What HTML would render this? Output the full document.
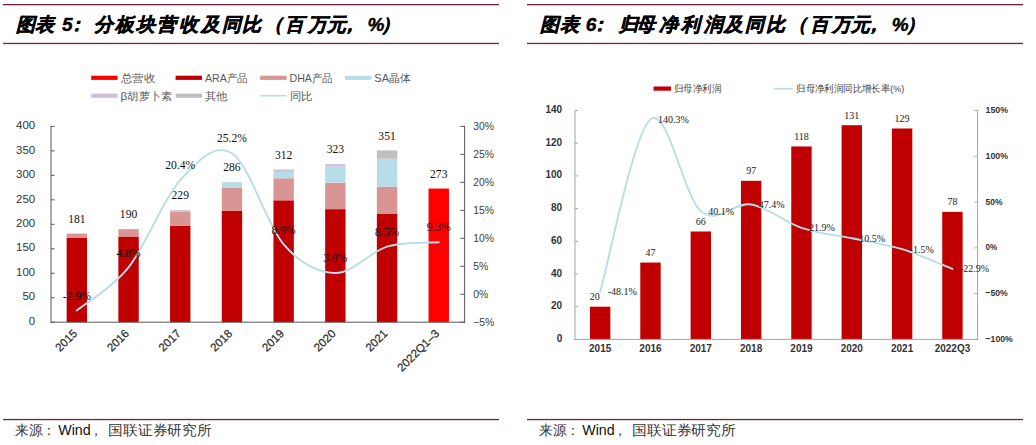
<!DOCTYPE html>
<html><head><meta charset="utf-8"><style>
html,body{margin:0;padding:0;background:#fff;}
body{width:1036px;height:445px;overflow:hidden;font-family:"Liberation Sans",sans-serif;}
svg{display:block;}
</style></head><body>
<svg width="1036" height="445" viewBox="0 0 1036 445">
<rect x="3" y="4" width="496" height="1.3" fill="#74203f"/>
<rect x="3" y="42.8" width="496" height="1.3" fill="#74203f"/>
<rect x="3" y="418.9" width="496" height="1.3" fill="#74203f"/>
<rect x="527" y="4" width="496" height="1.3" fill="#74203f"/>
<rect x="527" y="42.8" width="496" height="1.3" fill="#74203f"/>
<rect x="527" y="418.9" width="496" height="1.3" fill="#74203f"/>
<text x="15.80 34.60 62.10 66.60 93.60 114.70 136.30 156.70 178.60 201.20 221.80 241.70 263.70 285.30 307.60 326.70 339.70 367.60 381.30" y="31.2" font-family="'Liberation Sans', sans-serif" font-size="19" font-weight="bold" font-style="italic" fill="#000" stroke="#000" stroke-width="0.45">图表5：分板块营收及同比（百万元，%）</text>
<text x="540.20 559.50 585.70 590.10 619.20 635.70 658.60 681.20 703.60 724.40 745.00 765.90 787.90 809.50 831.80 850.90 863.90 891.80 905.50" y="31.2" font-family="'Liberation Sans', sans-serif" font-size="19" font-weight="bold" font-style="italic" fill="#000" stroke="#000" stroke-width="0.45">图表6：归母净利润及同比（百万元，%）</text>
<text x="15" y="435.3" font-family="'Liberation Serif', serif" font-size="14" fill="#333" textLength="41" lengthAdjust="spacingAndGlyphs">来源：</text>
<text x="58.2" y="435.3" font-family="'Liberation Sans', sans-serif" font-size="14" fill="#111" textLength="32.5" lengthAdjust="spacingAndGlyphs">Wind</text>
<text x="89.3" y="435.3" font-family="'Liberation Serif', serif" font-size="14" fill="#333">，</text>
<text x="108.3" y="435.3" font-family="'Liberation Serif', serif" font-size="14" fill="#333" textLength="103.5" lengthAdjust="spacingAndGlyphs">国联证券研究所</text>
<text x="539" y="435.3" font-family="'Liberation Serif', serif" font-size="14" fill="#333" textLength="41" lengthAdjust="spacingAndGlyphs">来源：</text>
<text x="582.2" y="435.3" font-family="'Liberation Sans', sans-serif" font-size="14" fill="#111" textLength="32.5" lengthAdjust="spacingAndGlyphs">Wind</text>
<text x="613.3" y="435.3" font-family="'Liberation Serif', serif" font-size="14" fill="#333">，</text>
<text x="632.3" y="435.3" font-family="'Liberation Serif', serif" font-size="14" fill="#333" textLength="103.5" lengthAdjust="spacingAndGlyphs">国联证券研究所</text>
<rect x="66.65" y="238.01" width="20.4" height="84.19" fill="#c00000"/>
<rect x="66.65" y="233.60" width="20.4" height="4.41" fill="#d99594"/>
<text x="76.85" y="222.80" font-family="'Liberation Serif', serif" font-size="11.6" fill="#111" text-anchor="middle">181</text>
<rect x="118.35" y="236.54" width="20.4" height="85.66" fill="#c00000"/>
<rect x="118.35" y="229.19" width="20.4" height="7.34" fill="#d99594"/>
<text x="128.55" y="218.39" font-family="'Liberation Serif', serif" font-size="11.6" fill="#111" text-anchor="middle">190</text>
<rect x="170.05" y="225.77" width="20.4" height="96.43" fill="#c00000"/>
<rect x="170.05" y="211.57" width="20.4" height="14.20" fill="#d99594"/>
<rect x="170.05" y="210.10" width="20.4" height="1.47" fill="#ccc1da"/>
<text x="180.25" y="199.30" font-family="'Liberation Serif', serif" font-size="11.6" fill="#111" text-anchor="middle">229</text>
<rect x="221.75" y="210.59" width="20.4" height="111.61" fill="#c00000"/>
<rect x="221.75" y="187.59" width="20.4" height="23.01" fill="#d99594"/>
<rect x="221.75" y="182.20" width="20.4" height="5.38" fill="#b7dde8"/>
<text x="231.95" y="171.40" font-family="'Liberation Serif', serif" font-size="11.6" fill="#111" text-anchor="middle">286</text>
<rect x="273.45" y="200.31" width="20.4" height="121.89" fill="#c00000"/>
<rect x="273.45" y="178.29" width="20.4" height="22.03" fill="#d99594"/>
<rect x="273.45" y="171.92" width="20.4" height="6.36" fill="#b7dde8"/>
<rect x="273.45" y="169.48" width="20.4" height="2.45" fill="#ccc1da"/>
<text x="283.65" y="158.68" font-family="'Liberation Serif', serif" font-size="11.6" fill="#111" text-anchor="middle">312</text>
<rect x="325.15" y="209.13" width="20.4" height="113.07" fill="#c00000"/>
<rect x="325.15" y="182.69" width="20.4" height="26.43" fill="#d99594"/>
<rect x="325.15" y="166.54" width="20.4" height="16.15" fill="#b7dde8"/>
<rect x="325.15" y="164.09" width="20.4" height="2.45" fill="#ccc1da"/>
<text x="335.35" y="153.29" font-family="'Liberation Serif', serif" font-size="11.6" fill="#111" text-anchor="middle">323</text>
<rect x="376.85" y="213.53" width="20.4" height="108.67" fill="#c00000"/>
<rect x="376.85" y="186.61" width="20.4" height="26.92" fill="#d99594"/>
<rect x="376.85" y="158.71" width="20.4" height="27.90" fill="#b7dde8"/>
<rect x="376.85" y="150.39" width="20.4" height="8.32" fill="#bfbfbf"/>
<text x="387.05" y="139.59" font-family="'Liberation Serif', serif" font-size="11.6" fill="#111" text-anchor="middle">351</text>
<rect x="428.55" y="188.57" width="20.4" height="133.63" fill="#ff0000"/>
<text x="438.75" y="177.77" font-family="'Liberation Serif', serif" font-size="11.6" fill="#111" text-anchor="middle">273</text>
<rect x="50.5" y="125.9" width="1" height="196.79999999999998" fill="#595959"/>
<rect x="464.1" y="125.9" width="1" height="196.79999999999998" fill="#595959"/>
<rect x="50.5" y="321.7" width="414.6" height="1" fill="#595959"/>
<rect x="51.0" y="321.70" width="3.6" height="1" fill="#595959"/>
<text x="35.2" y="324.90" font-family="'Liberation Sans', sans-serif" font-size="10.5" fill="#333" text-anchor="end" textLength="6.4" lengthAdjust="spacingAndGlyphs">0</text>
<rect x="51.0" y="297.22" width="3.6" height="1" fill="#595959"/>
<text x="35.2" y="300.42" font-family="'Liberation Sans', sans-serif" font-size="10.5" fill="#333" text-anchor="end" textLength="12.8" lengthAdjust="spacingAndGlyphs">50</text>
<rect x="51.0" y="272.75" width="3.6" height="1" fill="#595959"/>
<text x="35.2" y="275.95" font-family="'Liberation Sans', sans-serif" font-size="10.5" fill="#333" text-anchor="end" textLength="19.2" lengthAdjust="spacingAndGlyphs">100</text>
<rect x="51.0" y="248.27" width="3.6" height="1" fill="#595959"/>
<text x="35.2" y="251.47" font-family="'Liberation Sans', sans-serif" font-size="10.5" fill="#333" text-anchor="end" textLength="19.2" lengthAdjust="spacingAndGlyphs">150</text>
<rect x="51.0" y="223.80" width="3.6" height="1" fill="#595959"/>
<text x="35.2" y="227.00" font-family="'Liberation Sans', sans-serif" font-size="10.5" fill="#333" text-anchor="end" textLength="19.2" lengthAdjust="spacingAndGlyphs">200</text>
<rect x="51.0" y="199.32" width="3.6" height="1" fill="#595959"/>
<text x="35.2" y="202.52" font-family="'Liberation Sans', sans-serif" font-size="10.5" fill="#333" text-anchor="end" textLength="19.2" lengthAdjust="spacingAndGlyphs">250</text>
<rect x="51.0" y="174.85" width="3.6" height="1" fill="#595959"/>
<text x="35.2" y="178.05" font-family="'Liberation Sans', sans-serif" font-size="10.5" fill="#333" text-anchor="end" textLength="19.2" lengthAdjust="spacingAndGlyphs">300</text>
<rect x="51.0" y="150.38" width="3.6" height="1" fill="#595959"/>
<text x="35.2" y="153.57" font-family="'Liberation Sans', sans-serif" font-size="10.5" fill="#333" text-anchor="end" textLength="19.2" lengthAdjust="spacingAndGlyphs">350</text>
<rect x="51.0" y="125.90" width="3.6" height="1" fill="#595959"/>
<text x="35.2" y="129.10" font-family="'Liberation Sans', sans-serif" font-size="10.5" fill="#333" text-anchor="end" textLength="19.2" lengthAdjust="spacingAndGlyphs">400</text>
<rect x="460.30" y="125.90" width="4.3" height="1" fill="#595959"/>
<text x="473.2" y="130.10" font-family="'Liberation Sans', sans-serif" font-size="10.4" fill="#404040">30%</text>
<rect x="460.30" y="153.87" width="4.3" height="1" fill="#595959"/>
<text x="473.2" y="158.07" font-family="'Liberation Sans', sans-serif" font-size="10.4" fill="#404040">25%</text>
<rect x="460.30" y="181.84" width="4.3" height="1" fill="#595959"/>
<text x="473.2" y="186.04" font-family="'Liberation Sans', sans-serif" font-size="10.4" fill="#404040">20%</text>
<rect x="460.30" y="209.81" width="4.3" height="1" fill="#595959"/>
<text x="473.2" y="214.01" font-family="'Liberation Sans', sans-serif" font-size="10.4" fill="#404040">15%</text>
<rect x="460.30" y="237.79" width="4.3" height="1" fill="#595959"/>
<text x="473.2" y="241.99" font-family="'Liberation Sans', sans-serif" font-size="10.4" fill="#404040">10%</text>
<rect x="460.30" y="265.76" width="4.3" height="1" fill="#595959"/>
<text x="473.2" y="269.96" font-family="'Liberation Sans', sans-serif" font-size="10.4" fill="#404040">5%</text>
<rect x="460.30" y="293.73" width="4.3" height="1" fill="#595959"/>
<text x="473.2" y="297.93" font-family="'Liberation Sans', sans-serif" font-size="10.4" fill="#404040">0%</text>
<rect x="460.30" y="321.70" width="4.3" height="1" fill="#595959"/>
<text x="473.2" y="325.90" font-family="'Liberation Sans', sans-serif" font-size="10.4" fill="#404040">−5%</text>
<path d="M76.85,310.45 C85.47,303.27 111.32,289.10 128.55,267.38 C145.78,245.65 163.02,199.13 180.25,180.11 C197.48,161.08 214.72,142.53 231.95,153.25 C249.18,163.97 266.42,224.49 283.65,244.44 C300.88,264.39 318.12,272.60 335.35,272.97 C352.58,273.34 369.82,251.81 387.05,246.68 C404.28,241.55 430.13,242.95 438.75,242.20" fill="none" stroke="#b7dee8" stroke-width="1.9" stroke-linecap="round"/>
<text x="76.85" y="299.65" font-family="'Liberation Serif', serif" font-size="11.6" fill="#111" text-anchor="middle">-2.9%</text>
<text x="128.55" y="256.58" font-family="'Liberation Serif', serif" font-size="11.6" fill="#111" text-anchor="middle">4.8%</text>
<text x="180.25" y="169.31" font-family="'Liberation Serif', serif" font-size="11.6" fill="#111" text-anchor="middle">20.4%</text>
<text x="231.95" y="142.45" font-family="'Liberation Serif', serif" font-size="11.6" fill="#111" text-anchor="middle">25.2%</text>
<text x="283.65" y="233.64" font-family="'Liberation Serif', serif" font-size="11.6" fill="#111" text-anchor="middle">8.9%</text>
<text x="335.35" y="262.17" font-family="'Liberation Serif', serif" font-size="11.6" fill="#111" text-anchor="middle">3.8%</text>
<text x="387.05" y="235.88" font-family="'Liberation Serif', serif" font-size="11.6" fill="#111" text-anchor="middle">8.5%</text>
<text x="438.75" y="231.40" font-family="'Liberation Serif', serif" font-size="11.6" fill="#111" text-anchor="middle">9.3%</text>
<text x="78.05" y="334.20" font-family="'Liberation Sans', sans-serif" font-size="11.5" fill="#303030" stroke="#303030" stroke-width="0.25" text-anchor="end" transform="rotate(-45 78.05 334.20)">2015</text>
<text x="129.75" y="334.20" font-family="'Liberation Sans', sans-serif" font-size="11.5" fill="#303030" stroke="#303030" stroke-width="0.25" text-anchor="end" transform="rotate(-45 129.75 334.20)">2016</text>
<text x="181.45" y="334.20" font-family="'Liberation Sans', sans-serif" font-size="11.5" fill="#303030" stroke="#303030" stroke-width="0.25" text-anchor="end" transform="rotate(-45 181.45 334.20)">2017</text>
<text x="233.15" y="334.20" font-family="'Liberation Sans', sans-serif" font-size="11.5" fill="#303030" stroke="#303030" stroke-width="0.25" text-anchor="end" transform="rotate(-45 233.15 334.20)">2018</text>
<text x="284.85" y="334.20" font-family="'Liberation Sans', sans-serif" font-size="11.5" fill="#303030" stroke="#303030" stroke-width="0.25" text-anchor="end" transform="rotate(-45 284.85 334.20)">2019</text>
<text x="336.55" y="334.20" font-family="'Liberation Sans', sans-serif" font-size="11.5" fill="#303030" stroke="#303030" stroke-width="0.25" text-anchor="end" transform="rotate(-45 336.55 334.20)">2020</text>
<text x="388.25" y="334.20" font-family="'Liberation Sans', sans-serif" font-size="11.5" fill="#303030" stroke="#303030" stroke-width="0.25" text-anchor="end" transform="rotate(-45 388.25 334.20)">2021</text>
<text x="439.95" y="334.20" font-family="'Liberation Sans', sans-serif" font-size="11.5" fill="#303030" stroke="#303030" stroke-width="0.25" text-anchor="end" transform="rotate(-45 439.95 334.20)">2022Q1–3</text>
<rect x="91.2" y="75.70" width="26.4" height="4.2" fill="#ff0000"/>
<text x="120.50" y="81.90" font-family="'Liberation Sans', sans-serif" font-size="11.2" fill="#595959" textLength="34.5" lengthAdjust="spacingAndGlyphs">总营收</text>
<rect x="175.6" y="75.70" width="26.4" height="4.2" fill="#c00000"/>
<text x="204.90" y="81.90" font-family="'Liberation Sans', sans-serif" font-size="11.2" fill="#595959" textLength="43" lengthAdjust="spacingAndGlyphs">ARA产品</text>
<rect x="260.2" y="75.70" width="26.4" height="4.2" fill="#d99594"/>
<text x="289.50" y="81.90" font-family="'Liberation Sans', sans-serif" font-size="11.2" fill="#595959" textLength="43.3" lengthAdjust="spacingAndGlyphs">DHA产品</text>
<rect x="345" y="75.70" width="26.4" height="4.2" fill="#b7dde8"/>
<text x="374.30" y="81.90" font-family="'Liberation Sans', sans-serif" font-size="11.2" fill="#595959" textLength="36.5" lengthAdjust="spacingAndGlyphs">SA晶体</text>
<rect x="91.2" y="93.60" width="26.4" height="4.2" fill="#ccc1da"/>
<text x="120.50" y="99.80" font-family="'Liberation Sans', sans-serif" font-size="11.2" fill="#595959" textLength="52.2" lengthAdjust="spacingAndGlyphs">β胡萝卜素</text>
<rect x="175.6" y="93.60" width="26.4" height="4.2" fill="#bfbfbf"/>
<text x="204.90" y="99.80" font-family="'Liberation Sans', sans-serif" font-size="11.2" fill="#595959" textLength="23" lengthAdjust="spacingAndGlyphs">其他</text>
<rect x="260.2" y="94.90" width="26.4" height="1.6" fill="#b7dee8"/>
<text x="289.50" y="99.80" font-family="'Liberation Sans', sans-serif" font-size="11.2" fill="#595959" textLength="23" lengthAdjust="spacingAndGlyphs">同比</text>
<rect x="589.96" y="306.70" width="20.4" height="32.70" fill="#c00000"/>
<text x="594.66" y="300.20" font-family="'Liberation Serif', serif" font-size="10" fill="#222" text-anchor="middle">20</text>
<rect x="640.29" y="262.56" width="20.4" height="76.84" fill="#c00000"/>
<text x="650.49" y="256.06" font-family="'Liberation Serif', serif" font-size="10" fill="#222" text-anchor="middle">47</text>
<rect x="690.61" y="231.49" width="20.4" height="107.91" fill="#c00000"/>
<text x="700.81" y="224.99" font-family="'Liberation Serif', serif" font-size="10" fill="#222" text-anchor="middle">66</text>
<rect x="740.94" y="180.81" width="20.4" height="158.59" fill="#c00000"/>
<text x="751.14" y="174.31" font-family="'Liberation Serif', serif" font-size="10" fill="#222" text-anchor="middle">97</text>
<rect x="791.26" y="146.47" width="20.4" height="192.93" fill="#c00000"/>
<text x="801.46" y="139.97" font-family="'Liberation Serif', serif" font-size="10" fill="#222" text-anchor="middle">118</text>
<rect x="841.59" y="125.22" width="20.4" height="214.18" fill="#c00000"/>
<text x="851.79" y="118.72" font-family="'Liberation Serif', serif" font-size="10" fill="#222" text-anchor="middle">131</text>
<rect x="891.91" y="128.49" width="20.4" height="210.91" fill="#c00000"/>
<text x="902.11" y="121.99" font-family="'Liberation Serif', serif" font-size="10" fill="#222" text-anchor="middle">129</text>
<rect x="942.24" y="211.87" width="20.4" height="127.53" fill="#c00000"/>
<text x="952.44" y="205.37" font-family="'Liberation Serif', serif" font-size="10" fill="#222" text-anchor="middle">78</text>
<rect x="574.5" y="110.0" width="1" height="229.89999999999998" fill="#a6a6a6"/>
<rect x="977.1" y="110.0" width="1" height="229.89999999999998" fill="#a6a6a6"/>
<rect x="574.5" y="338.9" width="403.6" height="1" fill="#a6a6a6"/>
<rect x="575.0" y="338.90" width="3" height="1" fill="#a6a6a6"/>
<text x="562.2" y="341.90" font-family="'Liberation Sans', sans-serif" font-size="10" font-weight="bold" fill="#333" text-anchor="end">0</text>
<rect x="575.0" y="306.20" width="3" height="1" fill="#a6a6a6"/>
<text x="562.2" y="309.20" font-family="'Liberation Sans', sans-serif" font-size="10" font-weight="bold" fill="#333" text-anchor="end">20</text>
<rect x="575.0" y="273.50" width="3" height="1" fill="#a6a6a6"/>
<text x="562.2" y="276.50" font-family="'Liberation Sans', sans-serif" font-size="10" font-weight="bold" fill="#333" text-anchor="end">40</text>
<rect x="575.0" y="240.80" width="3" height="1" fill="#a6a6a6"/>
<text x="562.2" y="243.80" font-family="'Liberation Sans', sans-serif" font-size="10" font-weight="bold" fill="#333" text-anchor="end">60</text>
<rect x="575.0" y="208.10" width="3" height="1" fill="#a6a6a6"/>
<text x="562.2" y="211.10" font-family="'Liberation Sans', sans-serif" font-size="10" font-weight="bold" fill="#333" text-anchor="end">80</text>
<rect x="575.0" y="175.40" width="3" height="1" fill="#a6a6a6"/>
<text x="562.2" y="178.40" font-family="'Liberation Sans', sans-serif" font-size="10" font-weight="bold" fill="#333" text-anchor="end">100</text>
<rect x="575.0" y="142.70" width="3" height="1" fill="#a6a6a6"/>
<text x="562.2" y="145.70" font-family="'Liberation Sans', sans-serif" font-size="10" font-weight="bold" fill="#333" text-anchor="end">120</text>
<rect x="575.0" y="110.00" width="3" height="1" fill="#a6a6a6"/>
<text x="562.2" y="113.00" font-family="'Liberation Sans', sans-serif" font-size="10" font-weight="bold" fill="#333" text-anchor="end">140</text>
<rect x="974.40" y="110.00" width="3.2" height="1" fill="#a6a6a6"/>
<text x="985.5" y="113.10" font-family="'Liberation Sans', sans-serif" font-size="9.8" font-weight="bold" fill="#333" textLength="22.6" lengthAdjust="spacingAndGlyphs">150%</text>
<rect x="974.40" y="155.78" width="3.2" height="1" fill="#a6a6a6"/>
<text x="985.5" y="158.88" font-family="'Liberation Sans', sans-serif" font-size="9.8" font-weight="bold" fill="#333" textLength="22.6" lengthAdjust="spacingAndGlyphs">100%</text>
<rect x="974.40" y="201.56" width="3.2" height="1" fill="#a6a6a6"/>
<text x="985.5" y="204.66" font-family="'Liberation Sans', sans-serif" font-size="9.8" font-weight="bold" fill="#333" textLength="17.0" lengthAdjust="spacingAndGlyphs">50%</text>
<rect x="974.40" y="247.34" width="3.2" height="1" fill="#a6a6a6"/>
<text x="985.5" y="250.44" font-family="'Liberation Sans', sans-serif" font-size="9.8" font-weight="bold" fill="#333" textLength="11.6" lengthAdjust="spacingAndGlyphs">0%</text>
<rect x="974.40" y="293.12" width="3.2" height="1" fill="#a6a6a6"/>
<text x="985.5" y="296.22" font-family="'Liberation Sans', sans-serif" font-size="9.8" font-weight="bold" fill="#333" textLength="22.3" lengthAdjust="spacingAndGlyphs">−50%</text>
<rect x="974.40" y="338.90" width="3.2" height="1" fill="#a6a6a6"/>
<text x="985.5" y="342.00" font-family="'Liberation Sans', sans-serif" font-size="9.8" font-weight="bold" fill="#333" textLength="27.3" lengthAdjust="spacingAndGlyphs">−100%</text>
<path d="M600.16,291.88 C608.55,263.13 633.71,132.84 650.49,119.38 C667.26,105.92 684.04,196.95 700.81,211.12 C717.59,225.30 734.36,201.66 751.14,204.44 C767.91,207.22 784.69,222.16 801.46,227.79 C818.24,233.42 835.01,234.66 851.79,238.23 C868.56,241.80 885.34,244.12 902.11,249.21 C918.89,254.31 944.05,265.54 952.44,268.81" fill="none" stroke="#b7dee8" stroke-width="1.9" stroke-linecap="round"/>
<text x="607.66" y="295.28" font-family="'Liberation Serif', serif" font-size="10" fill="#222">-48.1%</text>
<text x="657.99" y="122.78" font-family="'Liberation Serif', serif" font-size="10" fill="#222">140.3%</text>
<text x="708.31" y="214.52" font-family="'Liberation Serif', serif" font-size="10" fill="#222">40.1%</text>
<text x="758.64" y="207.84" font-family="'Liberation Serif', serif" font-size="10" fill="#222">47.4%</text>
<text x="808.96" y="231.19" font-family="'Liberation Serif', serif" font-size="10" fill="#222">21.9%</text>
<text x="859.29" y="241.63" font-family="'Liberation Serif', serif" font-size="10" fill="#222">10.5%</text>
<text x="909.61" y="252.61" font-family="'Liberation Serif', serif" font-size="10" fill="#222">-1.5%</text>
<text x="959.94" y="272.21" font-family="'Liberation Serif', serif" font-size="10" fill="#222">-22.9%</text>
<text x="600.16" y="351.80" font-family="'Liberation Sans', sans-serif" font-size="10" font-weight="bold" fill="#333" text-anchor="middle">2015</text>
<text x="650.49" y="351.80" font-family="'Liberation Sans', sans-serif" font-size="10" font-weight="bold" fill="#333" text-anchor="middle">2016</text>
<text x="700.81" y="351.80" font-family="'Liberation Sans', sans-serif" font-size="10" font-weight="bold" fill="#333" text-anchor="middle">2017</text>
<text x="751.14" y="351.80" font-family="'Liberation Sans', sans-serif" font-size="10" font-weight="bold" fill="#333" text-anchor="middle">2018</text>
<text x="801.46" y="351.80" font-family="'Liberation Sans', sans-serif" font-size="10" font-weight="bold" fill="#333" text-anchor="middle">2019</text>
<text x="851.79" y="351.80" font-family="'Liberation Sans', sans-serif" font-size="10" font-weight="bold" fill="#333" text-anchor="middle">2020</text>
<text x="902.11" y="351.80" font-family="'Liberation Sans', sans-serif" font-size="10" font-weight="bold" fill="#333" text-anchor="middle">2021</text>
<text x="952.44" y="351.80" font-family="'Liberation Sans', sans-serif" font-size="10" font-weight="bold" fill="#333" text-anchor="middle">2022Q3</text>
<rect x="653.5" y="86.5" width="17.5" height="4.2" fill="#c00000"/>
<text x="673.8" y="91.5" font-family="'Liberation Sans', sans-serif" font-size="9.5" fill="#454545" textLength="47.5" lengthAdjust="spacingAndGlyphs">归母净利润</text>
<rect x="773.8" y="87.8" width="18.9" height="1.8" fill="#b7dee8"/>
<text x="796.2" y="91.5" font-family="'Liberation Sans', sans-serif" font-size="9.5" fill="#454545" textLength="108" lengthAdjust="spacingAndGlyphs">归母净利润同比增长率(%)</text>
</svg>
</body></html>
